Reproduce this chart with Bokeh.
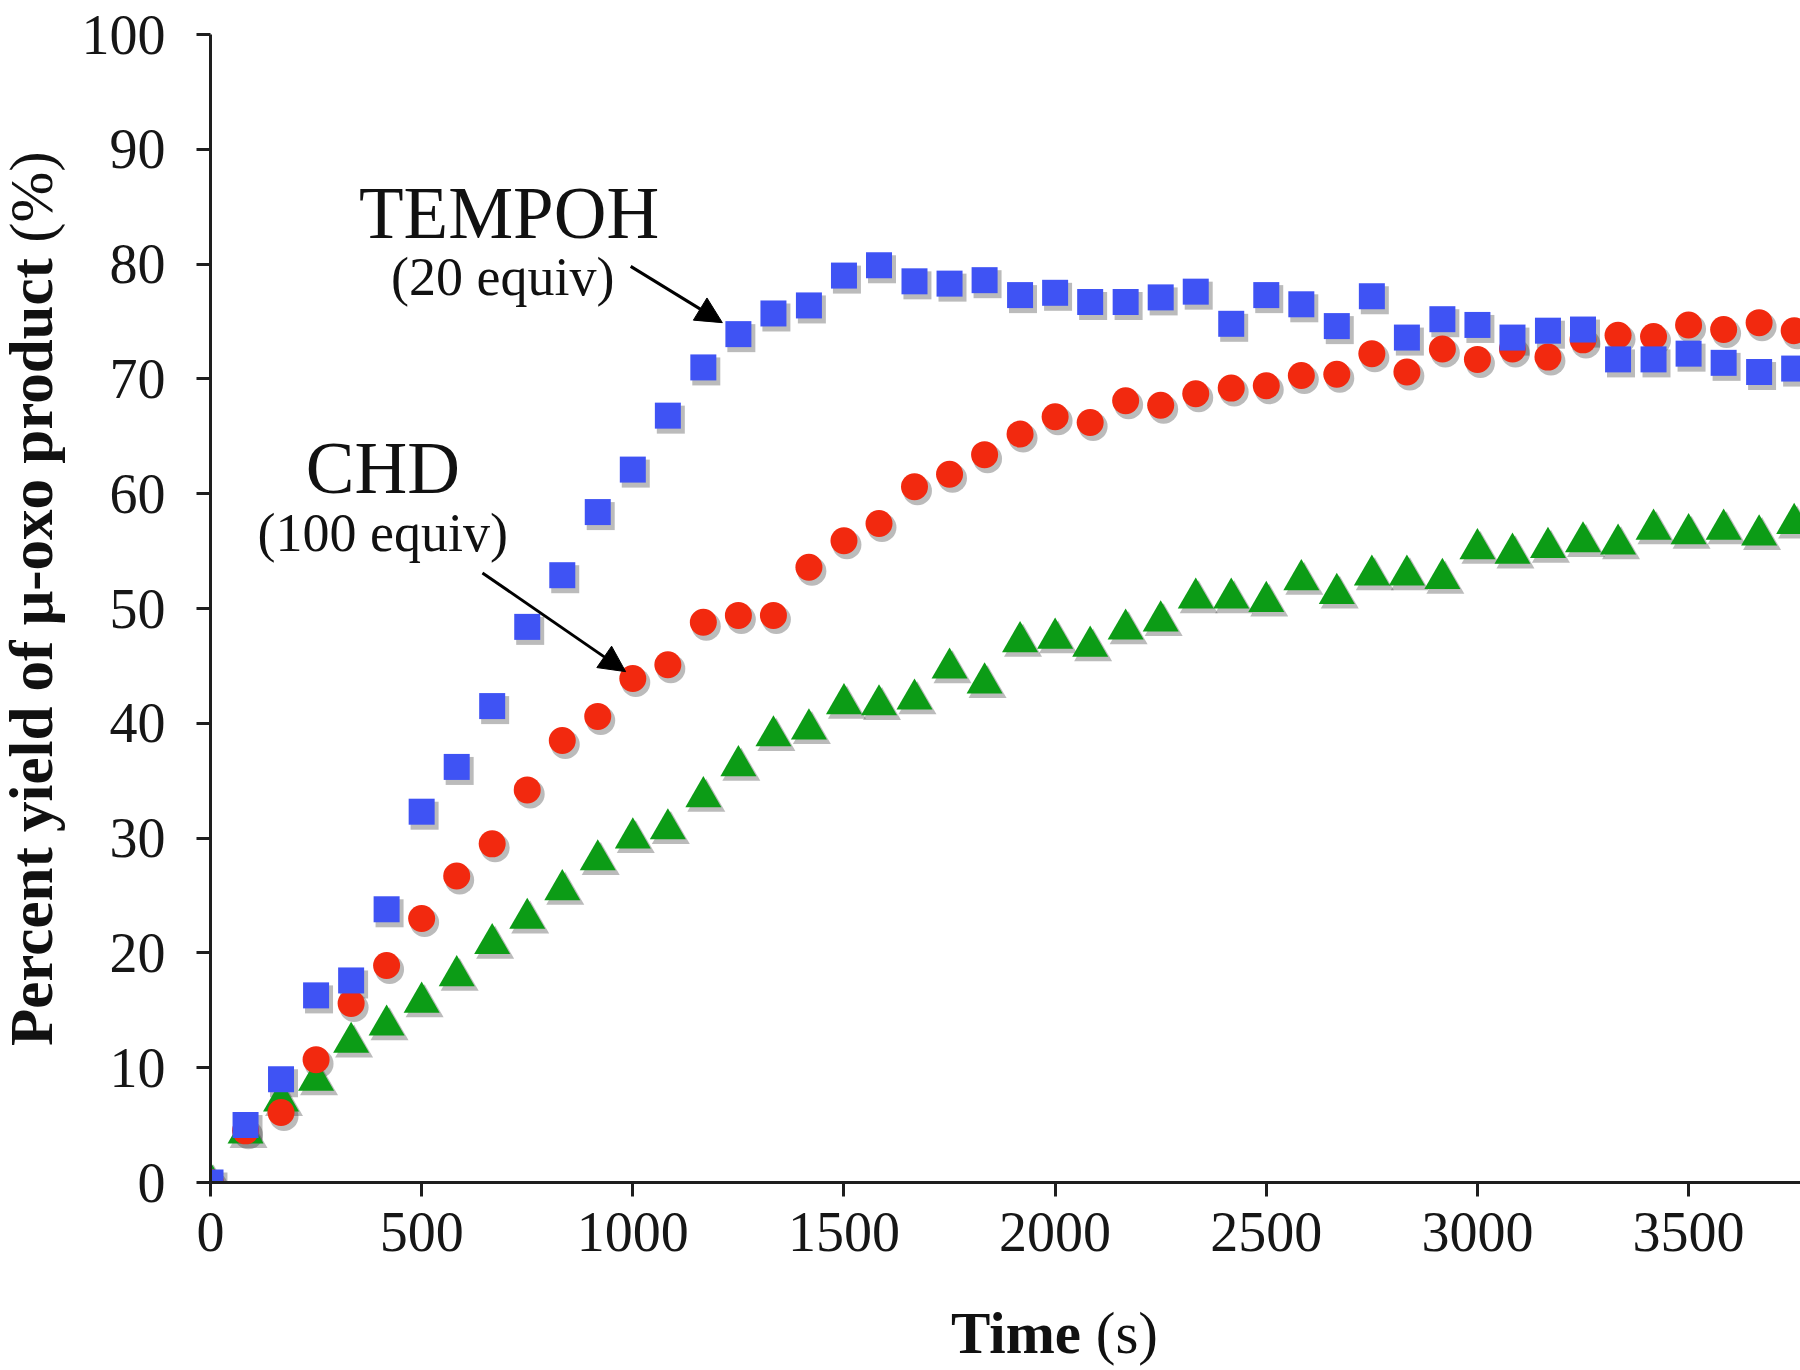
import numpy as np
from bokeh.plotting import figure
from bokeh.models import ColumnDataSource, Label, Arrow, NormalHead, Range1d, Div
from bokeh.layouts import row, column
from bokeh.transform import dodge
from bokeh.embed import file_html
from bokeh.resources import INLINE

# time axis (s)
time_s = [0, 83, 167, 250, 333, 417, 500, 583, 667, 750, 833, 917, 1000, 1083, 1167,
          1250, 1333, 1417, 1500, 1583, 1667, 1750, 1833, 1917, 2000, 2083, 2167, 2250,
          2333, 2417, 2500, 2583, 2667, 2750, 2833, 2917, 3000, 3083, 3167, 3250, 3333,
          3417, 3500, 3583, 3667, 3750]

# percent yield of mu-oxo product
tempoh = [0, 5.0, 9.0, 16.3, 17.6, 23.8, 32.3, 36.2, 41.5, 48.4, 52.9, 58.4, 62.1, 66.8,
          71.0, 73.9, 75.7, 76.4, 79.0, 79.9, 78.5, 78.3, 78.6, 77.3, 77.5, 76.7, 76.7,
          77.1, 77.6, 74.8, 77.3, 76.5, 74.6, 77.2, 73.6, 75.2, 74.7, 73.6, 74.2, 74.3,
          71.7, 71.7, 72.2, 71.4, 70.6, 70.9]
chd = [0, 4.5, 6.1, 10.7, 15.6, 18.9, 23.0, 26.7, 29.5, 34.2, 38.5, 40.6, 43.9, 45.1,
       48.8, 49.4, 49.4, 53.6, 55.9, 57.4, 60.6, 61.7, 63.4, 65.2, 66.7, 66.2, 68.1, 67.7,
       68.7, 69.2, 69.4, 70.3, 70.4, 72.2, 70.6, 72.6, 71.7, 72.6, 71.9, 73.4, 73.8, 73.7,
       74.7, 74.3, 74.9, 74.2]
control = [0, 4.3, 7.1, 8.9, 12.2, 13.7, 15.7, 18.0, 20.8, 23.0, 25.5, 28.1, 30.0, 30.8,
           33.6, 36.3, 38.9, 39.5, 41.7, 41.6, 42.1, 44.8, 43.5, 47.1, 47.4, 46.7, 48.2,
           48.9, 50.9, 50.9, 50.6, 52.5, 51.3, 52.9, 52.9, 52.6, 55.2, 54.8, 55.3, 55.8,
           55.6, 56.9, 56.5, 56.9, 56.4, 57.4]

x_ticks = [0, 500, 1000, 1500, 2000, 2500, 3000, 3500]
y_ticks = [0, 10, 20, 30, 40, 50, 60, 70, 80, 90, 100]

BLUE = "#3f53f4"
RED = "#f2290f"
GREEN = "#0c9c16"
SERIF = "Liberation Serif"
INK = "#111111"

src = ColumnDataSource(data=dict(t=time_s, tempoh=tempoh, chd=chd, control=control))

p = figure(
    width=1726,
    height=1298,
    x_range=Range1d(0, 3765),
    y_range=Range1d(0, 100),
    min_border_left=136,
    min_border_right=0,
    min_border_top=34,
    min_border_bottom=116,
    toolbar_location=None,
    tools="",
    output_backend="svg")

p.outline_line_color = None
p.xgrid.visible = False
p.ygrid.visible = False

for ax in (p.xaxis, p.yaxis):
    ax.axis_line_color = "#1e1e1e"
    ax.axis_line_width = 3
    ax.major_tick_line_color = "#1e1e1e"
    ax.major_tick_line_width = 3
    ax.major_tick_out = 14
    ax.major_tick_in = 0
    ax.minor_tick_line_color = None
    ax.major_label_text_font = SERIF
    ax.major_label_text_font_size = "56px"
    ax.major_label_text_color = "#161616"
p.xaxis.ticker = x_ticks
p.yaxis.ticker = y_ticks
p.xaxis.major_label_standoff = 16
p.yaxis.major_label_standoff = 31

# soft drop shadows under the markers
shadow = dict(fill_color="#2a2a2a", fill_alpha=0.32, line_color=None)
p.scatter(dodge("t", 7), dodge("tempoh", -0.35), source=src, marker="square", size=28, **shadow)
p.scatter(dodge("t", 7), dodge("chd", -0.35), source=src, marker="circle", size=29, **shadow)
p.scatter(dodge("t", 7), dodge("control", -0.35), source=src, marker="triangle", size=38, **shadow)

p.scatter("t", "control", source=src, marker="triangle", size=36, fill_color=GREEN, line_color=None)
p.scatter("t", "chd", source=src, marker="circle", size=27, fill_color=RED, line_color=None)
p.scatter("t", "tempoh", source=src, marker="square", size=26, fill_color=BLUE, line_color=None)

# series labels with arrows
def note(x, y, text, size):
    p.add_layout(Label(x=x, y=y, text=text, text_align="center", text_baseline="middle",
                       text_font=SERIF, text_font_size=size, text_color=INK))

note(707, 84.4, "TEMPOH", "73px")
note(692, 78.9, "(20 equiv)", "54px")
note(408, 62.2, "CHD", "73px")
note(408, 56.6, "(100 equiv)", "54px")

head = dict(size=26, fill_color="black", line_color="black")
p.add_layout(Arrow(end=NormalHead(**head), x_start=995, y_start=79.8, x_end=1212, y_end=74.9,
                   line_width=3, line_color="black"))
p.add_layout(Arrow(end=NormalHead(**head), x_start=644, y_start=53.1, x_end=983, y_end=44.5,
                   line_width=3, line_color="black"))

# axis titles: bold words, regular units
font_css = "font-family:'Liberation Serif';color:%s;white-space:nowrap;" % INK
y_title = Div(
    width=74, height=1298, margin=0,
    text=('<div style="position:relative;width:74px;height:1298px;">'
          '<span style="position:absolute;left:0;top:0;transform-origin:0 0;'
          'transform:translate(10px,1046px) rotate(-90deg);font-size:61px;line-height:44px;'
          + font_css + '"><b>Percent yield of \u03bc-oxo product</b> (%)</span></div>'))
x_title = Div(
    width=1800, height=72, margin=0,
    text=('<div style="position:relative;width:1800px;height:72px;">'
          '<span style="position:absolute;left:951px;top:6px;font-size:59px;line-height:59px;'
          + font_css + '"><b>Time</b> (s)</span></div>'))

layout = column(row(y_title, p, spacing=0), x_title, spacing=0)

open("out.html", "w").write(file_html(layout, INLINE))
